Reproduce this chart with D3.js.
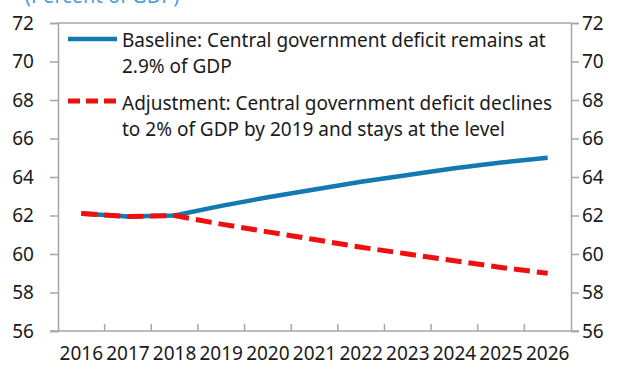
<!DOCTYPE html>
<html>
<head>
<meta charset="utf-8">
<script src="https://cdn.jsdelivr.net/npm/d3@7"></script>
<style>
  body { margin: 0; background: #fff; }
  svg { display: block; font-family: "Noto Sans", "Open Sans", sans-serif; }
  .tick text { fill: #1a1a1a; }
  .legend { font-size: 19px; fill: #1a1a1a; }
</style>
</head>
<body>
<script>
const YEARS = ['2016', '2017', '2018', '2019', '2020', '2021', '2022', '2023', '2024', '2025', '2026'];
const BASELINE = [62.1, 61.95, 62.0, 62.5, 62.95, 63.35, 63.75, 64.1, 64.45, 64.75, 65.0];
const ADJUSTMENT = [62.1, 61.95, 62.0, 61.55, 61.15, 60.75, 60.35, 60.0, 59.65, 59.3, 59.0];
const Y_TICKS = [56, 58, 60, 62, 64, 66, 68, 70, 72];
const LEGEND_BASE = ['Baseline: Central government deficit remains at', '2.9% of GDP'];
const LEGEND_ADJ = ['Adjustment: Central government deficit declines', 'to 2% of GDP by 2019 and stays at the level'];

const width = 617, height = 371;
const margin = { top: 23, right: 46, bottom: 40, left: 58 };
const axisColor = '#a6a6a6';
const blue = '#1479b0', red = '#ee1010';

const svg = d3.select('body').append('svg')
  .attr('width', width)
  .attr('height', height);

const x = d3.scaleBand()
  .domain(YEARS)
  .range([margin.left, width - margin.right])
  .padding(0);

const y = d3.scaleLinear()
  .domain([56, 72])
  .range([height - margin.bottom, margin.top]);

// title, mostly cut off by the top edge
svg.append('text')
  .attr('x', 25)
  .attr('y', 3)
  .attr('fill', '#4d9bd6')
  .attr('font-size', '20px')
  .text('(Percent of GDP)');

// frame top
svg.append('line')
  .attr('x1', margin.left).attr('x2', width - margin.right)
  .attr('y1', y(72)).attr('y2', y(72))
  .attr('stroke', axisColor).attr('stroke-width', 1.5);

// left axis
const yLeft = svg.append('g')
  .attr('transform', `translate(${margin.left},0)`)
  .call(d3.axisLeft(y).tickValues(Y_TICKS).tickSize(8).tickPadding(16));

// right axis
const yRight = svg.append('g')
  .attr('transform', `translate(${width - margin.right},0)`)
  .call(d3.axisRight(y).tickValues(Y_TICKS).tickSize(8).tickPadding(3));

// bottom axis: ticks sit on the band edges
const xAxis = svg.append('g')
  .attr('transform', `translate(0,${y(56)})`)
  .call(d3.axisBottom(x).tickSize(0).tickPadding(16));

xAxis.selectAll('.edge')
  .data(YEARS.slice(1))
  .enter()
  .append('line')
  .attr('class', 'edge')
  .attr('x1', d => x(d)).attr('x2', d => x(d))
  .attr('y1', 0).attr('y2', -7)
  .attr('stroke', axisColor).attr('stroke-width', 1.5);

[yLeft, yRight, xAxis].forEach(g => {
  g.selectAll('.domain').attr('stroke', axisColor).attr('stroke-width', 1.5);
  g.selectAll('.tick line').attr('stroke', axisColor).attr('stroke-width', 1.5);
  g.selectAll('.tick text').attr('font-size', '19px').attr('font-family', '"Noto Sans", sans-serif');
});
xAxis.select('.domain').attr('d', `M${margin.left - 8},0H${width - margin.right + 8}`);

// lines
const line = d3.line()
  .x((d, i) => x(YEARS[i]) + x.bandwidth() / 2)
  .y(d => y(d));

svg.append('path')
  .datum(BASELINE)
  .attr('d', line)
  .attr('fill', 'none')
  .attr('stroke', blue)
  .attr('stroke-width', 4.5);

svg.append('path')
  .datum(ADJUSTMENT)
  .attr('d', line)
  .attr('fill', 'none')
  .attr('stroke', red)
  .attr('stroke-width', 5)
  .attr('stroke-dasharray', '16,7');

// legend
const legend = svg.append('g');

legend.append('line')
  .attr('x1', 68).attr('x2', 117)
  .attr('y1', 39).attr('y2', 39)
  .attr('stroke', blue).attr('stroke-width', 4.5);

legend.append('line')
  .attr('x1', 68).attr('x2', 117)
  .attr('y1', 101).attr('y2', 101)
  .attr('stroke', red).attr('stroke-width', 5)
  .attr('stroke-dasharray', '12,6');

const addLines = (lines, top) => {
  legend.append('text')
    .attr('class', 'legend')
    .selectAll('tspan')
    .data(lines)
    .enter()
    .append('tspan')
    .attr('x', 122)
    .attr('y', (_, i) => top + i * 26)
    .text(d => d);
};
addLines(LEGEND_BASE, 47);
addLines(LEGEND_ADJ, 110);
</script>
</body>
</html>
